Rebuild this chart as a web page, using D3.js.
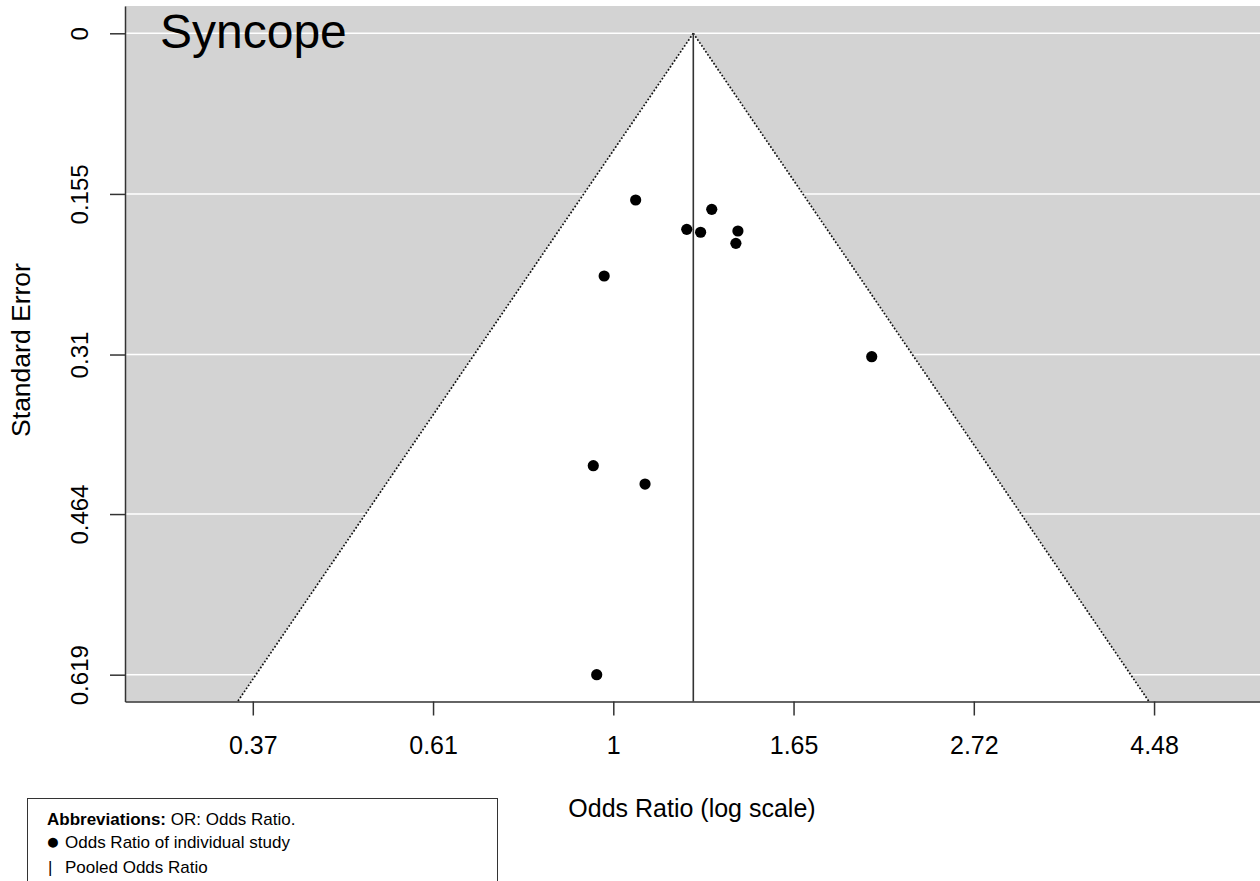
<!DOCTYPE html>
<html>
<head>
<meta charset="utf-8">
<script src="https://cdn.jsdelivr.net/npm/d3@7"></script>
<style>
  html, body { margin: 0; padding: 0; background: #fff; }
  svg { display: block; font-family: "Liberation Sans", Arial, sans-serif; }
</style>
</head>
<body>
<svg id="chart" width="1260" height="881"></svg>
<script>
// ---- Data ----
const studyOR = [1.064, 1.314, 1.226, 1.274, 1.413, 1.405, 0.975, 2.048, 0.946, 1.092, 0.955];
const studySE = [0.1609, 0.1699, 0.1892, 0.1920, 0.1908, 0.2027, 0.2342, 0.3121, 0.4173, 0.4350, 0.619];
const pooledOR = 1.2485;
const xTickValues = [0.37, 0.61, 1, 1.65, 2.72, 4.48];
const xTickLogs = [-1, -0.5, 0, 0.5, 1, 1.5];
const yTickValues = [0, 0.155, 0.31, 0.464, 0.619];
const titleText = "Syncope";
const xTitle = "Odds Ratio (log scale)";
const yTitle = "Standard Error";

(function () {
// ---- Layout ----
const pLeft = 125, pRight = 1260, pTop = 6, pBottom = 701.5;
const svg = d3.select("#chart");

// x: natural-log space; 613.3 px at ln=0, 360.5 px per ln unit
const x = d3.scaleLinear()
  .domain([(pLeft - 613.3) / 360.5, (pRight - 613.3) / 360.5])
  .range([pLeft, pRight]);
// y: standard error; 0 at 33.3 px, 0.619 at 674.7 px
const yk = (674.7 - 33.3) / 0.619;
const y = d3.scaleLinear()
  .domain([(pTop - 33.3) / yk, (pBottom - 33.3) / yk])
  .range([pTop, pBottom]);

// background
svg.append("rect")
  .attr("x", pLeft).attr("y", pTop)
  .attr("width", pRight - pLeft).attr("height", pBottom - pTop)
  .attr("fill", "#d3d3d3");

// horizontal white grid lines
svg.selectAll(".grid").data(yTickValues).enter().append("line")
  .attr("x1", pLeft).attr("x2", pRight)
  .attr("y1", d => y(d)).attr("y2", d => y(d))
  .attr("stroke", "#fff").attr("stroke-width", 1.5);

// funnel
const lp = Math.log(pooledOR);
const seMax = y.domain()[1];
const poly = [[lp, 0], [lp - 1.96 * seMax, seMax], [lp + 1.96 * seMax, seMax]];
svg.append("polygon")
  .attr("points", poly.map(p => [x(p[0]), y(p[1])].join(",")).join(" "))
  .attr("fill", "#fff");
[[poly[0], poly[1]], [poly[0], poly[2]]].forEach(seg => {
  svg.append("line")
    .attr("x1", x(seg[0][0])).attr("y1", y(seg[0][1]))
    .attr("x2", x(seg[1][0])).attr("y2", y(seg[1][1]))
    .attr("stroke", "#111").attr("stroke-width", 1.7)
    .attr("stroke-dasharray", "1.7,1.9");
});

// pooled line
svg.append("line")
  .attr("x1", x(lp)).attr("x2", x(lp))
  .attr("y1", y(0)).attr("y2", pBottom)
  .attr("stroke", "#333").attr("stroke-width", 1.6);

// points
svg.selectAll(".pt").data(studyOR.map((o, i) => [Math.log(o), studySE[i]])).enter()
  .append("circle")
  .attr("cx", d => x(d[0])).attr("cy", d => y(d[1]))
  .attr("r", 5.6).attr("fill", "#000");

// axes
const xAxis = d3.axisBottom(x)
  .tickValues(xTickLogs)
  .tickFormat((d, i) => xTickValues[i])
  .tickSize(14).tickPadding(21).tickSizeOuter(0);
const gx = svg.append("g").attr("transform", `translate(0,${pBottom})`).call(xAxis);
gx.select(".domain").attr("stroke", "#333").attr("stroke-width", 1.5);
gx.selectAll(".tick line").attr("stroke", "#333").attr("stroke-width", 1.5);
gx.selectAll(".tick text")
  .attr("font-size", 25).attr("fill", "#000")
  .attr("font-family", "'Liberation Sans', Arial, sans-serif");

const yAxis = d3.axisLeft(y)
  .tickValues(yTickValues)
  .tickFormat(d => String(d))
  .tickSize(15).tickSizeOuter(0);
const gy = svg.append("g").attr("transform", `translate(${pLeft},0)`).call(yAxis);
gy.select(".domain").attr("stroke", "#333").attr("stroke-width", 1.5);
gy.selectAll(".tick line").attr("stroke", "#333").attr("stroke-width", 1.5);
gy.selectAll(".tick text").remove();
gy.selectAll(".tick").append("text")
  .attr("transform", "translate(-37,0) rotate(-90)")
  .attr("text-anchor", "middle")
  .attr("font-size", 24).attr("fill", "#000")
  .attr("font-family", "'Liberation Sans', Arial, sans-serif")
  .text(d => String(d));

// titles
svg.append("text")
  .attr("x", 160).attr("y", 48)
  .attr("font-size", 48).attr("fill", "#000")
  .text(titleText);

svg.append("text")
  .attr("x", 692).attr("y", 817)
  .attr("text-anchor", "middle")
  .attr("font-size", 25).attr("fill", "#000")
  .text(xTitle);

svg.append("text")
  .attr("transform", "translate(30,350) rotate(-90)")
  .attr("text-anchor", "middle")
  .attr("font-size", 26.5).attr("fill", "#000")
  .text(yTitle);

// legend box
svg.append("rect")
  .attr("x", 27.5).attr("y", 798.5)
  .attr("width", 470).attr("height", 120)
  .attr("fill", "#fff").attr("stroke", "#333").attr("stroke-width", 1);

const leg = svg.append("g").attr("font-size", 17).attr("fill", "#000");
const l1 = leg.append("text").attr("x", 47).attr("y", 825);
l1.append("tspan").attr("font-weight", "bold").text("Abbreviations:");
l1.append("tspan").text(" OR: Odds Ratio.");
leg.append("text").attr("x", 46).attr("y", 848.5).attr("font-size", 23).text("\u25CF");
leg.append("text").attr("x", 65).attr("y", 848).text("Odds Ratio of individual study");
leg.append("text").attr("x", 48).attr("y", 873).text("|");
leg.append("text").attr("x", 65).attr("y", 873).text("Pooled Odds Ratio");
})();
</script>
</body>
</html>
